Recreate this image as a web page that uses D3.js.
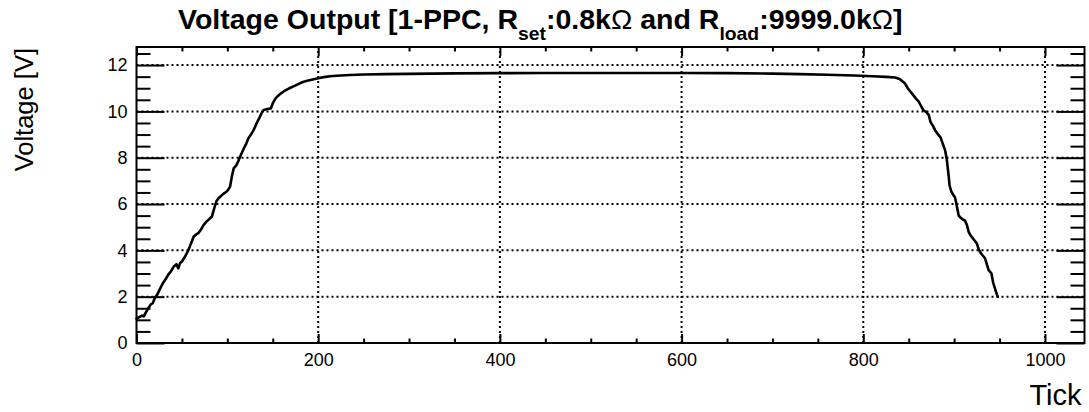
<!DOCTYPE html>
<html>
<head>
<meta charset="utf-8">
<script src="https://cdn.jsdelivr.net/npm/d3@7"></script>
<style>
  body { margin: 0; background: #fff; }
  text { font-family: "Liberation Sans", Arial, Helvetica, sans-serif; fill: #000; }
</style>
</head>
<body>
<svg id="chart" width="1089" height="412"></svg>
<script>
// Sample index (tick) and measured output voltage [V]
const tickIndex = [
  0, 3, 6, 8, 10, 13, 16, 18, 20, 23, 26, 29, 32, 35, 38, 41, 44, 46, 48, 50,
  53, 57, 60, 63, 66, 68, 71, 74, 77, 80, 83, 86, 88, 90, 93, 96, 99, 101, 103, 105,
  107, 110, 112, 114, 117, 119, 121, 123, 126, 129, 132, 135, 138, 140, 144, 148, 150, 153, 156, 159,
  162, 166, 170, 174, 178, 183, 188, 194, 200, 206, 213, 220, 235, 250, 275, 300, 350, 400, 450, 500,
  550, 600, 650, 700, 730, 760, 790, 810, 825, 835, 840, 843, 846, 849, 852, 855, 858, 861, 864, 866,
  869, 872, 874, 877, 879, 882, 885, 888, 890, 892, 894, 895, 897, 899, 901, 903, 905, 907, 909, 912,
  914, 916, 918, 920, 922, 925, 927, 929, 931, 934, 936, 938, 941, 943, 945, 947, 948
];
const voltage = [
  1.05, 1.12, 1.18, 1.15, 1.30, 1.50, 1.68, 1.72, 1.93, 2.10, 2.35, 2.58, 2.75, 2.95, 3.10, 3.30, 3.40, 3.22, 3.45, 3.52,
  3.70, 4.00, 4.30, 4.60, 4.70, 4.74, 4.90, 5.10, 5.24, 5.35, 5.46, 5.88, 6.12, 6.24, 6.35, 6.45, 6.53, 6.62, 6.75, 7.20,
  7.54, 7.68, 7.85, 8.04, 8.30, 8.47, 8.62, 8.83, 9.00, 9.20, 9.47, 9.70, 9.95, 10.06, 10.10, 10.13, 10.35, 10.56, 10.68, 10.78,
  10.86, 10.95, 11.03, 11.10, 11.18, 11.27, 11.32, 11.38, 11.43, 11.48, 11.52, 11.54, 11.57, 11.59, 11.61, 11.62, 11.64, 11.65, 11.66, 11.66,
  11.66, 11.66, 11.65, 11.63, 11.61, 11.58, 11.55, 11.52, 11.49, 11.46, 11.40, 11.30, 11.20, 11.00, 10.85, 10.70, 10.55, 10.42, 10.20, 10.06,
  9.98, 9.85, 9.55, 9.35, 9.19, 9.02, 8.88, 8.55, 8.33, 7.90, 7.20, 6.80, 6.53, 6.40, 6.28, 5.90, 5.50, 5.42, 5.35, 5.28,
  5.10, 4.80, 4.65, 4.55, 4.45, 4.30, 4.05, 3.90, 3.80, 3.66, 3.40, 3.15, 3.01, 2.60, 2.35, 2.10, 2.00
];

// Axis ticks
const xMajorTicks = [0, 200, 400, 600, 800, 1000];
const yMajorTicks = [0, 2, 4, 6, 8, 10, 12];
const xGridLines = [200, 400, 600, 800, 1000];
const yGridLines = [2, 4, 6, 8, 10, 12];

const xMax = 1043.5, yMax = 12.78;
const frame = { left: 136.5, right: 1084.5, top: 47, bottom: 343 };

const svg = d3.select("#chart");
const x = d3.scaleLinear().domain([0, xMax]).range([frame.left, frame.right]);
const y = d3.scaleLinear().domain([0, yMax]).range([frame.bottom, frame.top]);

const xMinorTicks = d3.range(0, xMax, 50).filter(v => !xMajorTicks.includes(v));
const yMinorTicks = d3.range(0, yMax, 0.5).filter(v => !yMajorTicks.includes(v));

// Dotted grid
const grid = svg.append("g")
  .attr("stroke", "#000").attr("stroke-width", 2).attr("stroke-dasharray", "2,3");
grid.selectAll("line.gx").data(xGridLines).join("line").attr("class", "gx")
  .attr("x1", d => x(d)).attr("x2", d => x(d))
  .attr("y1", frame.bottom).attr("y2", frame.top);
grid.selectAll("line.gy").data(yGridLines).join("line").attr("class", "gy")
  .attr("y1", d => y(d)).attr("y2", d => y(d))
  .attr("x1", frame.left).attr("x2", frame.right);

// Inward ticks on all four sides
function tickAxis(axis, transform) {
  svg.append("g").attr("transform", transform)
    .call(axis.tickFormat(""))
    .call(g => g.select(".domain").remove())
    .call(g => g.selectAll(".tick line").attr("stroke", "#000").attr("stroke-width", 2));
}
tickAxis(d3.axisBottom(x).tickValues(xMajorTicks).tickSize(-9), `translate(0,${frame.bottom})`);
tickAxis(d3.axisBottom(x).tickValues(xMinorTicks).tickSize(-4.5), `translate(0,${frame.bottom})`);
tickAxis(d3.axisTop(x).tickValues(xMajorTicks).tickSize(-9), `translate(0,${frame.top})`);
tickAxis(d3.axisTop(x).tickValues(xMinorTicks).tickSize(-4.5), `translate(0,${frame.top})`);
tickAxis(d3.axisLeft(y).tickValues(yMajorTicks).tickSize(-28), `translate(${frame.left},0)`);
tickAxis(d3.axisLeft(y).tickValues(yMinorTicks).tickSize(-14), `translate(${frame.left},0)`);
tickAxis(d3.axisRight(y).tickValues(yMajorTicks).tickSize(-28), `translate(${frame.right},0)`);
tickAxis(d3.axisRight(y).tickValues(yMinorTicks).tickSize(-14), `translate(${frame.right},0)`);

// Tick labels
svg.append("g").attr("transform", `translate(0,${frame.bottom})`)
  .call(d3.axisBottom(x).tickValues(xMajorTicks).tickSize(0).tickPadding(10).tickFormat(d3.format("d")))
  .call(g => g.select(".domain").remove())
  .call(g => g.selectAll("text").attr("font-size", 18).attr("font-family", "Liberation Sans, Arial, sans-serif").attr("fill", "#000"));
svg.append("g").attr("transform", `translate(${frame.left},0)`)
  .call(d3.axisLeft(y).tickValues(yMajorTicks).tickSize(0).tickPadding(9).tickFormat(d3.format("d")))
  .call(g => g.select(".domain").remove())
  .call(g => g.selectAll("text").attr("font-size", 18).attr("font-family", "Liberation Sans, Arial, sans-serif").attr("fill", "#000"));

// Frame
svg.append("rect")
  .attr("x", frame.left).attr("y", frame.top)
  .attr("width", frame.right - frame.left).attr("height", frame.bottom - frame.top)
  .attr("fill", "none").attr("stroke", "#000").attr("stroke-width", 2);

// Voltage curve
const points = tickIndex.map((t, i) => ({ t, v: voltage[i] }));
svg.append("path")
  .datum(points)
  .attr("fill", "none").attr("stroke", "#000").attr("stroke-width", 2.6)
  .attr("stroke-linejoin", "round").attr("stroke-linecap", "round")
  .attr("d", d3.line().x(d => x(d.t)).y(d => y(d.v)));

// Axis titles
svg.append("text")
  .attr("x", frame.right - 3).attr("y", 405)
  .attr("text-anchor", "end").attr("font-size", 29)
  .text("Tick");
svg.append("text")
  .attr("transform", `translate(33,${frame.top + 1}) rotate(-90)`)
  .attr("text-anchor", "end").attr("font-size", 25.5)
  .text("Voltage [V]");

// Title with subscripts
const titleG = svg.append("g");
const title = titleG.append("text")
  .attr("x", 0).attr("y", 29)
  .attr("font-size", 28).attr("font-weight", "bold");
const parts = [
  { s: "Voltage Output [1-PPC, R" },
  { s: "set", sub: true },
  { s: ":0.8k", up: true },
  { s: "\u03A9", thin: true },
  { s: " and R" },
  { s: "load", sub: true },
  { s: ":9999.0k", up: true },
  { s: "\u03A9", thin: true },
  { s: "]" }
];
parts.forEach(p => {
  const ts = title.append("tspan").text(p.s);
  if (p.sub) ts.attr("font-size", 19).attr("dy", 11);
  if (p.up) ts.attr("dy", -11);
  if (p.thin) ts.attr("font-weight", "normal");
});
const tw = title.node().getBBox().width;
const titleLeft = 178, titleWidth = 725;
titleG.attr("transform", `translate(${titleLeft},0) scale(${titleWidth / tw},1)`);
</script>
</body>
</html>
